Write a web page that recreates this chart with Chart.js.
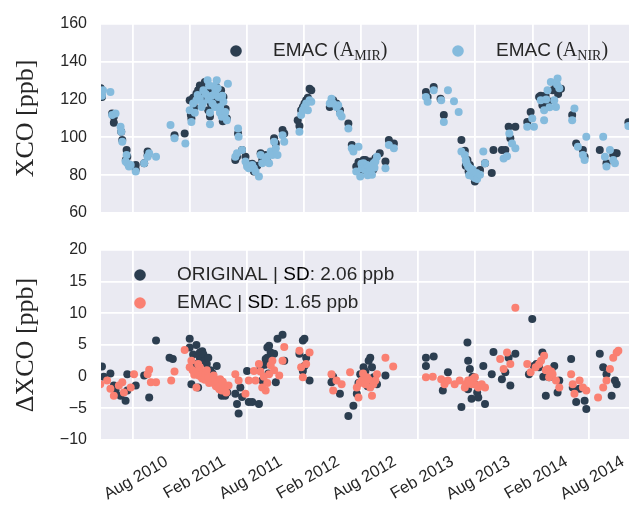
<!DOCTYPE html>
<html>
<head>
<meta charset="utf-8">
<script src="https://cdn.jsdelivr.net/npm/chart.js@4/dist/chart.umd.min.js"></script>
<style>
	html, body { margin: 0; padding: 0; background: #fff; }
	#wrap { position: relative; width: 633px; height: 509px; overflow: hidden; }
	#wrap canvas { position: absolute; left: 0; }
	#chart-top { top: 0; }
	#chart-bottom { top: 225px; }
</style>
</head>
<body>
<div id="wrap">
	<canvas id="chart-top" width="633" height="225"></canvas>
	<canvas id="chart-bottom" width="633" height="284"></canvas>
</div>
<script>
/*
 * Time is given as decimal years.  Each point is [year, ppb].
 */

/* Top panel: XCO from EMAC with the two averaging kernels. */

const xcoMir = [
	[2010.300, 126], [2010.305, 123], [2010.311, 121.4], [2010.400, 112.6],
	[2010.415, 110.9], [2010.415, 107.7], [2010.480, 103], [2010.489, 98.6],
	[2010.527, 93.3], [2010.533, 89.8], [2010.520, 88], [2010.548, 85.4],
	[2010.607, 85.4], [2010.607, 83], [2010.681, 86.3], [2010.711, 92.5],
	[2010.711, 90.5], [2010.947, 101.2], [2011.036, 102.1],
	[2011.080, 119.6], [2011.090, 112], [2011.095, 110], [2011.110, 121],
	[2011.120, 116], [2011.139, 123.2], [2011.154, 125], [2011.169, 127.5],
	[2011.184, 120], [2011.200, 124], [2011.213, 129.3], [2011.228, 126],
	[2011.243, 114.4], [2011.258, 111], [2011.265, 118], [2011.273, 124],
	[2011.285, 121], [2011.302, 119.6], [2011.310, 127], [2011.317, 122],
	[2011.332, 124.9], [2011.340, 116], [2011.347, 119], [2011.355, 125],
	[2011.361, 112], [2011.370, 108.5], [2011.376, 121.4], [2011.395, 115],
	[2011.406, 110], [2011.504, 102],
	[2011.480, 88], [2011.495, 89.8], [2011.539, 93.3], [2011.569, 89.8],
	[2011.583, 86.3], [2011.598, 84.6], [2011.628, 86], [2011.643, 82],
	[2011.672, 85], [2011.702, 91.6], [2011.716, 88], [2011.746, 90.7],
	[2011.761, 87.2], [2011.790, 91.6], [2011.820, 99.5], [2011.835, 96.8],
	[2011.894, 103.9], [2011.909, 102.1],
	[2012.027, 109.1], [2012.042, 106], [2012.057, 114.4], [2012.072, 116.1],
	[2012.086, 118], [2012.101, 119.6], [2012.116, 121], [2012.131, 125.8],
	[2012.146, 124.9],
	[2012.308, 116.1], [2012.323, 117.9], [2012.338, 119.6], [2012.367, 118],
	[2012.397, 114.4], [2012.471, 107.4], [2012.501, 96], [2012.515, 94.2],
	[2012.540, 84.6], [2012.560, 87], [2012.575, 81.9], [2012.589, 85.4],
	[2012.604, 88.1], [2012.620, 88], [2012.634, 83.7], [2012.649, 86.3],
	[2012.663, 87.2], [2012.678, 84.6], [2012.690, 83], [2012.708, 89],
	[2012.746, 91.6], [2012.796, 87.2], [2012.826, 98.6], [2012.870, 96.8],
	[2013.151, 124], [2013.166, 121.4], [2013.219, 126.7], [2013.279, 120.5],
	[2013.308, 111.8], [2013.462, 98.6], [2013.492, 93], [2013.500, 85],
	[2013.515, 88.1], [2013.525, 82], [2013.536, 85.4], [2013.545, 80],
	[2013.551, 83], [2013.580, 76.7], [2013.580, 81.9], [2013.595, 79.3],
	[2013.610, 81.1], [2013.625, 82.8], [2013.669, 86.3], [2013.728, 81.1],
	[2013.743, 93.3], [2013.817, 93.3], [2013.847, 93.3], [2013.876, 105.6],
	[2013.891, 99.5], [2013.935, 105.6],
	[2014.039, 108.2], [2014.069, 113.5], [2014.143, 121.4], [2014.157, 122],
	[2014.172, 117], [2014.200, 122], [2014.230, 119], [2014.261, 124.9],
	[2014.290, 127], [2014.310, 123], [2014.335, 125.8], [2014.433, 111.8],
	[2014.468, 96.8], [2014.527, 93.3], [2014.542, 89.8], [2014.675, 93.3],
	[2014.734, 86.3], [2014.793, 90.7], [2014.808, 91.6], [2014.823, 91.6],
	[2014.926, 108],
];

const xcoNir = [
	[2010.300, 124], [2010.311, 122], [2010.320, 125], [2010.385, 124],
	[2010.400, 111.8], [2010.430, 112.6], [2010.474, 105.6], [2010.480, 103],
	[2010.489, 97.7], [2010.527, 90.7], [2010.518, 87.2], [2010.533, 86.3],
	[2010.548, 84.6], [2010.563, 85.4], [2010.607, 82], [2010.681, 86.3],
	[2010.711, 89.8], [2010.725, 91.6], [2010.785, 89.8],
	[2010.912, 106.5], [2010.947, 99.5], [2011.042, 96.8],
	[2011.080, 114.4], [2011.095, 108.2], [2011.110, 118], [2011.125, 113],
	[2011.139, 119.6], [2011.150, 122.5], [2011.169, 120.5], [2011.184, 116.1],
	[2011.195, 118], [2011.200, 125], [2011.220, 123], [2011.237, 130.2],
	[2011.243, 120], [2011.250, 127.5], [2011.258, 107], [2011.258, 113],
	[2011.273, 122], [2011.280, 118], [2011.290, 127], [2011.302, 116.1],
	[2011.305, 124], [2011.317, 130.2], [2011.325, 126], [2011.332, 121.4],
	[2011.345, 113], [2011.347, 116.1], [2011.361, 110.9], [2011.365, 122],
	[2011.376, 118.8], [2011.385, 111], [2011.391, 113.5], [2011.406, 109.1],
	[2011.415, 128.4], [2011.504, 104.7], [2011.509, 100.4],
	[2011.480, 89.8], [2011.495, 91.6], [2011.539, 93.3], [2011.569, 87.2],
	[2011.583, 84.6], [2011.598, 83.7], [2011.628, 85.4], [2011.643, 83.7],
	[2011.657, 81.9], [2011.687, 79.3], [2011.702, 90.7], [2011.716, 86.3],
	[2011.746, 88.9], [2011.761, 89.8], [2011.776, 86.3], [2011.790, 92.5],
	[2011.805, 90.7], [2011.820, 97.7], [2011.835, 94.2], [2011.850, 90.7],
	[2011.894, 101.2], [2011.909, 97.7],
	[2012.042, 103], [2012.057, 111.8], [2012.072, 114.4], [2012.086, 116.1],
	[2012.101, 117.9], [2012.116, 114.4], [2012.131, 119.6], [2012.146, 118.8],
	[2012.308, 117.9], [2012.323, 120.5], [2012.338, 117.9], [2012.367, 116.1],
	[2012.382, 117], [2012.397, 112.6], [2012.412, 111], [2012.471, 104.7],
	[2012.501, 94.2], [2012.515, 92.5], [2012.540, 82], [2012.560, 95.1],
	[2012.575, 79.3], [2012.585, 86], [2012.589, 83.7], [2012.604, 86.3],
	[2012.619, 82.8], [2012.634, 85.4], [2012.640, 80], [2012.649, 84.6],
	[2012.663, 82.8], [2012.678, 80.2], [2012.693, 86.3], [2012.700, 84],
	[2012.708, 87.2], [2012.722, 89.8], [2012.796, 83.7], [2012.826, 96],
	[2012.870, 94.2],
	[2013.151, 121.4], [2013.166, 118.8], [2013.219, 124.9], [2013.285, 119.6],
	[2013.308, 108.2], [2013.344, 124.9], [2013.397, 119.1], [2013.438, 113.5],
	[2013.462, 92.5], [2013.492, 90.7], [2013.500, 88], [2013.507, 86.3],
	[2013.521, 84.6], [2013.530, 80], [2013.536, 83.7], [2013.551, 81.9],
	[2013.560, 83], [2013.565, 79.3], [2013.580, 78.5], [2013.595, 81.1],
	[2013.600, 78], [2013.625, 80.2], [2013.654, 92.5], [2013.669, 86.3],
	[2013.832, 88.9], [2013.862, 90], [2013.882, 102.1], [2013.906, 96.8],
	[2013.935, 94.2],
	[2014.039, 105.6], [2014.083, 110], [2014.098, 105.6], [2014.157, 119.6],
	[2014.187, 114.4], [2014.187, 109.1], [2014.205, 120], [2014.217, 124.9],
	[2014.235, 116], [2014.246, 129.3], [2014.276, 119.6], [2014.291, 116.1],
	[2014.300, 128], [2014.305, 131.1], [2014.320, 126],
	[2014.433, 109.1], [2014.453, 115.3], [2014.483, 95.1], [2014.527, 90.7],
	[2014.542, 88], [2014.557, 100.4], [2014.705, 100.4], [2014.720, 89.8],
	[2014.734, 84.6], [2014.764, 93.3], [2014.793, 88.1], [2014.808, 86.3],
	[2014.926, 106],
];

/* Bottom panel: differences to the observations. */

const dxcoOriginal = [
	[2010.311, 1.6], [2010.326, 0], [2010.385, 0.5], [2010.415, -1.4],
	[2010.430, -2.2], [2010.474, -3], [2010.518, -3.8], [2010.533, 0.4],
	[2010.533, -2.2], [2010.607, -1.4], [2010.681, 0.2], [2010.725, -3.3],
	[2010.785, 5.7],
	[2010.903, 3], [2010.932, 2.8], [2011.080, 6], [2011.080, 4.6],
	[2011.095, -1.2], [2011.110, 3.5], [2011.125, 2], [2011.139, 5],
	[2011.154, -1.7], [2011.169, 3.8], [2011.169, 3], [2011.184, 2.8],
	[2011.190, 4], [2011.200, 3.5], [2011.213, 2.5], [2011.230, 2],
	[2011.243, 3], [2011.260, 1], [2011.280, 0.5], [2011.300, -0.5],
	[2011.317, 1.7], [2011.340, -1.5], [2011.361, -3], [2011.391, -3],
	[2011.410, -2.5],
	[2011.480, -2.7], [2011.495, -4.3], [2011.509, -5.8], [2011.524, -1.7],
	[2011.539, -3.2], [2011.583, 0.9], [2011.598, -4], [2011.628, -4],
	[2011.687, -4.3], [2011.702, 1.5], [2011.716, -0.6], [2011.740, 1.9],
	[2011.746, 2.8], [2011.760, 3], [2011.761, 4.6], [2011.770, 0.5],
	[2011.776, 4.9], [2011.790, 3.8], [2011.820, 3.6],
	[2011.835, -0.9], [2011.850, 6], [2011.894, 6.6], [2011.909, 2.5],
	[2012.042, 3.6], [2012.072, 5.7], [2012.086, 6], [2012.072, 0.9],
	[2012.086, 1.7], [2012.101, 3], [2012.131, -0.6],
	[2012.323, -0.9], [2012.338, 0], [2012.397, -2.7], [2012.471, -6.2],
	[2012.515, -4.6], [2012.545, -2.7], [2012.560, -1], [2012.575, 0.4],
	[2012.604, 1.5], [2012.620, 0.8], [2012.640, -1.5], [2012.649, 2.5],
	[2012.663, 3], [2012.678, 1.5], [2012.693, -0.1],
	[2012.722, -1.2], [2012.796, 0.2],
	[2013.151, 3], [2013.151, 1.7], [2013.219, 3.2], [2013.299, -2.2],
	[2013.344, 0.7], [2013.462, -4.8], [2013.515, 5.4], [2013.520, -2],
	[2013.521, 2.5], [2013.536, 1.2], [2013.551, -3.5], [2013.560, 0],
	[2013.580, -1.2], [2013.600, -2.5], [2013.610, -3.3],
	[2013.654, 1.7], [2013.669, -4.3], [2013.728, 0.4], [2013.743, 3.9],
	[2013.817, -0.4], [2013.847, 0.7], [2013.876, 3], [2013.891, -1.4],
	[2013.935, 3.6],
	[2014.054, 0.4], [2014.083, 9.1], [2014.098, 1.7], [2014.120, 2],
	[2014.143, 1.5], [2014.172, 3.8], [2014.180, 0], [2014.202, -3],
	[2014.231, -0.1], [2014.250, 1], [2014.276, 1.7],
	[2014.305, -2.5], [2014.320, -0.6], [2014.424, 2.8], [2014.438, -1.7],
	[2014.468, -4], [2014.498, -1.9], [2014.542, -3.8], [2014.557, -5.1],
	[2014.675, 3.6], [2014.705, 1.5], [2014.734, 0.4], [2014.779, -3],
	[2014.808, -0.6], [2014.823, -1.2],
];

const dxcoEmac = [
	[2010.296, -1.2], [2010.356, -0.6], [2010.385, -1.9], [2010.415, -3],
	[2010.459, -1.4], [2010.489, -0.9], [2010.503, -2.5], [2010.563, -1.7],
	[2010.592, 0.4], [2010.711, 0.4], [2010.725, 1.1], [2010.740, -0.9],
	[2010.785, -0.9],
	[2010.918, -0.6], [2010.947, 0.8], [2011.036, 4.2], [2011.080, 1.5],
	[2011.095, 2.5], [2011.105, 1], [2011.120, 0.3], [2011.139, -1.7],
	[2011.140, 0.8], [2011.154, 2], [2011.160, 0.2], [2011.169, 1.5],
	[2011.180, 0], [2011.190, -0.3], [2011.200, 0.5], [2011.213, -0.5],
	[2011.220, 0.4], [2011.230, 1], [2011.243, 0], [2011.250, -1],
	[2011.258, -0.2], [2011.273, -0.6], [2011.280, -0.9], [2011.290, 0.2],
	[2011.302, -1.2], [2011.310, -1.5], [2011.320, -0.8], [2011.332, -1.7],
	[2011.340, -2], [2011.347, -0.4], [2011.361, -2.2], [2011.370, -0.8],
	[2011.376, -1.7], [2011.391, -1.4], [2011.400, -2.5], [2011.421, -1.4],
	[2011.480, 0.4], [2011.509, -0.6], [2011.569, -2.7], [2011.598, -0.6],
	[2011.643, 0.9], [2011.657, -0.6], [2011.687, 2], [2011.700, 0.8],
	[2011.716, -1.7], [2011.730, 0], [2011.746, -2.2], [2011.760, -1],
	[2011.776, 0.4], [2011.790, 1.8], [2011.805, 2.5], [2011.820, 1],
	[2011.865, 0.2], [2011.894, 2.5], [2011.909, 4.7],
	[2012.042, 4.1], [2012.057, 1.5], [2012.072, -0.1], [2012.101, 2],
	[2012.131, 3.8],
	[2012.323, 0.4], [2012.338, -2.2], [2012.367, -0.6], [2012.412, -1.2],
	[2012.486, 0.7], [2012.545, -1.7], [2012.560, -3.3], [2012.570, -1],
	[2012.589, -0.6], [2012.600, 0.5], [2012.620, -1.2], [2012.634, -0.1],
	[2012.650, -0.5], [2012.663, -1.7], [2012.678, -3], [2012.690, -1.2],
	[2012.708, -0.6], [2012.722, 0.4], [2012.796, 3], [2012.864, 1.6],
	[2013.151, -0.1], [2013.211, 0], [2013.285, -0.4], [2013.314, -1.2],
	[2013.344, -0.6], [2013.403, -1.2], [2013.447, -0.6], [2013.492, -1.7],
	[2013.500, -1.2], [2013.521, -0.6], [2013.530, -1], [2013.551, -1.2],
	[2013.560, -0.4], [2013.580, -0.1], [2013.595, -1.3], [2013.610, -1.7],
	[2013.640, -1.2], [2013.669, -1.7], [2013.802, 2.8], [2013.832, 1.2],
	[2013.862, 3.8], [2013.891, 2], [2013.935, 10.9],
	[2014.039, 2], [2014.069, 0.7], [2014.113, 1.5], [2014.143, 2],
	[2014.160, 2.5], [2014.187, 3.3], [2014.202, 1], [2014.220, 1.2],
	[2014.231, -0.1], [2014.250, 0.8], [2014.261, 0.4],
	[2014.291, -0.6], [2014.320, -1.7], [2014.424, 0.4], [2014.438, -1.2],
	[2014.453, -2.7], [2014.498, -0.6], [2014.527, -1.7], [2014.557, -2.2],
	[2014.660, -3.3], [2014.705, -1.7], [2014.734, -0.6], [2014.764, 1.2],
	[2014.793, 3], [2014.823, 3.8], [2014.838, 4.1],
];

/* Date ticks as [year, month index], with their labels. */

const tickDates = [
	[2010, 7], [2011, 1], [2011, 7], [2012, 1], [2012, 7],
	[2013, 1], [2013, 7], [2014, 1], [2014, 7],
];
const tickLabels = [
	'Aug 2010', 'Feb 2011', 'Aug 2011', 'Feb 2012', 'Aug 2012',
	'Feb 2013', 'Aug 2013', 'Feb 2014', 'Aug 2014',
];
const xRange = [2010.3025, 2014.9312];

const colDark = '#2c3e50';
const colBlue = '#85bbdd';
const colSalmon = '#fa8072';
const colText = '#262626';
const sans = "'Liberation Sans', Arial, sans-serif";
const serif = "'Liberation Serif', 'Times New Roman', serif";

Chart.defaults.font.family = sans;
Chart.defaults.color = colText;

function decYear(y, m)
{
	const t0 = Date.UTC(y, 0, 1);
	const t1 = Date.UTC(y + 1, 0, 1);
	return y + (Date.UTC(y, m, 1) - t0) / (t1 - t0);
}

const tickValues = tickDates.map(d => decYear(d[0], d[1]));

function toPoints(arr)
{
	return arr.map(p => ({x: p[0], y: p[1]}));
}

function minus(v)
{
	return v < 0 ? '\u2212' + Math.abs(v) : String(v);
}

/* Grey seaborn background behind the grid. */

const darkgrid = {
	id: 'darkgrid',
	beforeDraw(chart) {
		const {ctx, chartArea: a} = chart;
		ctx.save();
		ctx.fillStyle = '#eaeaf2';
		ctx.fillRect(a.left, a.top, a.right - a.left, a.bottom - a.top);
		ctx.restore();
	}
};

/*
 * The legends are drawn by hand: marker, then a run of text pieces each with
 * its own font (so that math subscripts work).
 */
function legend(items)
{
	return {
		id: 'handLegend',
		afterDatasetsDraw(chart) {
			const ctx = chart.ctx;
			const a = chart.chartArea;
			ctx.save();
			ctx.textBaseline = 'middle';
			for (const it of items) {
				const y = a.top + it.y;
				ctx.fillStyle = it.color;
				ctx.beginPath();
				ctx.arc(a.left + it.x, y, 5.8, 0, Math.PI * 2);
				ctx.fill();
				let x = a.left + it.textX;
				for (const part of it.parts) {
					ctx.font = part.font;
					ctx.fillStyle = part.color || colText;
					ctx.fillText(part.text, x, y + (part.dy || 0));
					x += ctx.measureText(part.text).width;
				}
			}
			ctx.restore();
		}
	};
}

function xAxis(showLabels)
{
	return {
		type: 'linear',
		min: xRange[0],
		max: xRange[1],
		afterBuildTicks: (scale) => {
			scale.ticks = tickValues.map(v => ({value: v}));
		},
		afterFit: (scale) => {
			scale.height = showLabels ? 69 : 0;
		},
		border: {display: false},
		grid: {color: '#ffffff', lineWidth: 1.8, drawTicks: false},
		ticks: {
			display: showLabels,
			autoSkip: false,
			minRotation: showLabels ? 30 : 0,
			maxRotation: showLabels ? 30 : 0,
			labelOffset: showLabels ? 34 : 0,
			padding: showLabels ? 12 : 0,
			font: {size: showLabels ? 16.5 : 1},
			color: colText,
			callback: (v, i) => showLabels ? tickLabels[i] : '',
		},
	};
}

/*
 * The gap between tick labels and the plot is an invisible tick mark, since
 * the ticks padding would also be added above and below the plot.
 */
function yAxis(min, max, step, title)
{
	return {
		min: min,
		max: max,
		afterFit: (scale) => {
			scale.width = 101;
		},
		border: {display: false},
		grid: {
			color: '#ffffff',
			lineWidth: 1.8,
			drawTicks: true,
			tickLength: 14,
			tickColor: 'rgba(0,0,0,0)',
		},
		ticks: {
			stepSize: step,
			padding: 0,
			font: {size: 16},
			color: colText,
			callback: (v) => minus(v),
		},
		title: {
			display: true,
			text: title,
			color: colText,
			font: {family: serif, size: 26},
			padding: {top: 11, bottom: 0},
		},
	};
}

function dataset(label, arr, color, order)
{
	return {
		label: label,
		data: toPoints(arr),
		backgroundColor: color,
		borderWidth: 0,
		pointRadius: 4,
		pointHoverRadius: 4,
		order: order,
	};
}

const common = {
	responsive: false,
	animation: false,
	events: [],
	plugins: {
		legend: {display: false},
		tooltip: {enabled: false},
	},
};

window.addEventListener('load', () => {
	const f19 = '19px ' + sans;
	const m20 = '20px ' + serif;
	const m14 = '14px ' + serif;

	new Chart(document.getElementById('chart-top'), {
		type: 'scatter',
		data: {
			datasets: [
				dataset('EMAC (A_MIR)', xcoMir, colDark, 2),
				dataset('EMAC (A_NIR)', xcoNir, colBlue, 1),
			],
		},
		options: Object.assign({}, common, {
			layout: {padding: {top: 24, bottom: 12, left: 0, right: 0}},
			scales: {
				x: xAxis(false),
				y: yAxis(60, 160, 20, 'XCO [ppb]'),
			},
		}),
		plugins: [darkgrid, legend([
			{x: 135, y: 27, textX: 172, color: colDark, parts: [
				{text: 'EMAC ', font: f19},
				{text: '(A', font: m20},
				{text: 'MIR', font: m14, dy: 5},
				{text: ')', font: m20},
			]},
			{x: 357, y: 27, textX: 395, color: colBlue, parts: [
				{text: 'EMAC ', font: f19},
				{text: '(A', font: m20},
				{text: 'NIR', font: m14, dy: 5},
				{text: ')', font: m20},
			]},
		])],
	});

	new Chart(document.getElementById('chart-bottom'), {
		type: 'scatter',
		data: {
			datasets: [
				dataset('ORIGINAL', dxcoOriginal, colDark, 2),
				dataset('EMAC', dxcoEmac, colSalmon, 1),
			],
		},
		options: Object.assign({}, common, {
			layout: {padding: {top: 25, bottom: 0, left: 0, right: 0}},
			scales: {
				x: xAxis(true),
				y: yAxis(-10, 20, 5, '\u0394XCO [ppb]'),
			},
		}),
		plugins: [darkgrid, legend([
			{x: 39, y: 25, textX: 76, color: colDark, parts: [
				{text: 'ORIGINAL | ', font: f19},
				{text: 'SD', font: f19, color: '#000'},
				{text: ': 2.06 ppb', font: f19},
			]},
			{x: 39, y: 53, textX: 76, color: colSalmon, parts: [
				{text: 'EMAC | ', font: f19},
				{text: 'SD', font: f19, color: '#000'},
				{text: ': 1.65 ppb', font: f19},
			]},
		])],
	});
});
</script>
</body>
</html>
